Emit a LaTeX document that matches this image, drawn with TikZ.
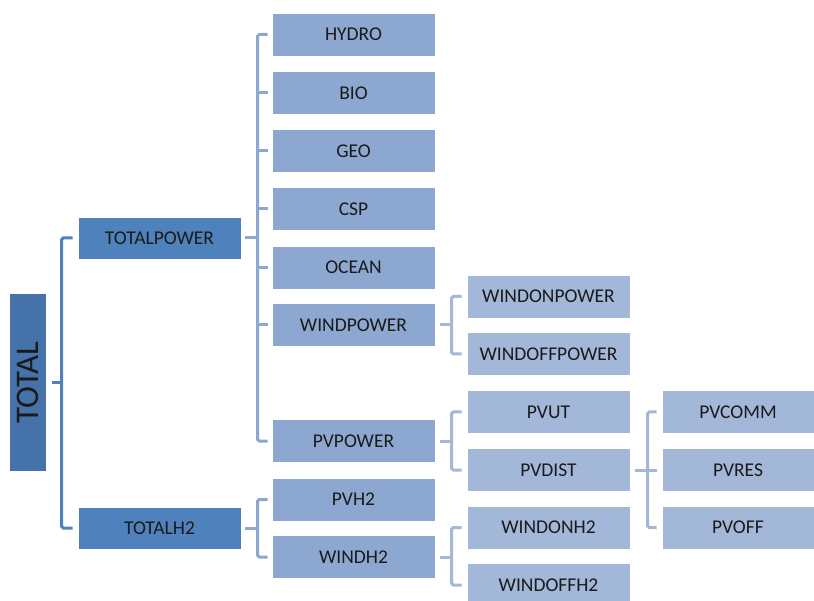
\documentclass[tikz,border=0pt]{standalone}
\usepackage{fontspec}
\setmainfont{Carlito}
\definecolor{ctot}{HTML}{4672AA}
\definecolor{cl1}{HTML}{4F81BD}
\definecolor{cl2}{HTML}{8DA8D0}
\definecolor{cl3}{HTML}{A3B7D9}
\definecolor{ctxt}{HTML}{1A1A1A}
\tikzset{
  box/.style={rectangle, draw=white, line width=0.6pt, minimum height=43pt, minimum width=163pt, inner sep=0pt, text=ctxt, font=\fontsize{19.5}{22}\selectfont},
  lvone/.style={box, fill=cl1, minimum height=42pt},
  lvtwo/.style={box, fill=cl2},
  lvthree/.style={box, fill=cl3},
  lvfour/.style={box, fill=cl3, minimum width=152pt},
  conone/.style={draw=cl1, line width=3pt, rounded corners=1.5pt},
  contwo/.style={draw=cl2, line width=3pt, rounded corners=1.5pt},
  conthree/.style={draw=cl3, line width=3pt, rounded corners=1.5pt},
}
\begin{document}
\begin{tikzpicture}[x=1pt,y=-1pt]
\useasboundingbox (0,0) rectangle (814,601);
% nodes
\node[box, fill=ctot, draw=none, minimum width=36pt, minimum height=177pt] (TOTAL) at (28,382.5) {\rotatebox{90}{\fontsize{33}{35}\selectfont TOTAL}};
\node[lvone] (TOTALPOWER) at (159.5,238) {TOTALPOWER};
\node[lvone] (TOTALH2) at (159.5,528) {TOTALH2};
\node[lvtwo] (HYDRO) at (353.5,34.5) {HYDRO};
\node[lvtwo] (BIO) at (353.5,93) {BIO};
\node[lvtwo] (GEO) at (353.5,151) {GEO};
\node[lvtwo] (CSP) at (353.5,209) {CSP};
\node[lvtwo] (OCEAN) at (353.5,267.5) {OCEAN};
\node[lvtwo] (WINDPOWER) at (353.5,325) {WINDPOWER};
\node[lvtwo] (PVPOWER) at (353.5,441) {PVPOWER};
\node[lvtwo] (PVH2) at (353.5,499.5) {PVH2};
\node[lvtwo] (WINDH2) at (353.5,557) {WINDH2};
\node[lvthree] (WINDONPOWER) at (548.5,296.5) {WINDONPOWER};
\node[lvthree] (WINDOFFPOWER) at (548.5,354) {WINDOFFPOWER};
\node[lvthree] (PVUT) at (548.5,412) {PVUT};
\node[lvthree] (PVDIST) at (548.5,470) {PVDIST};
\node[lvthree] (WINDONH2) at (548.5,527.5) {WINDONH2};
\node[lvthree] (WINDOFFH2) at (548.5,585) {WINDOFFH2};
\node[lvfour] (PVCOMM) at (738,412) {PVCOMM};
\node[lvfour] (PVRES) at (738,470) {PVRES};
\node[lvfour] (PVOFF) at (738,527.5) {PVOFF};
% level 1 connectors
\draw[conone] ([xshift=-5pt]TOTALPOWER.west) -- ([xshift=-16pt]TOTALPOWER.west) -- ([xshift=-16pt]TOTALH2.west) -- ([xshift=-5pt]TOTALH2.west);
\draw[conone] ([xshift=6pt]TOTAL.east) -- ([xshift=-16pt]TOTALPOWER.west |- TOTAL.east);
% level 2 connectors (TOTALPOWER)
\draw[contwo] ([xshift=-4pt]HYDRO.west) -- ([xshift=-14pt]HYDRO.west) -- ([xshift=-14pt]PVPOWER.west) -- ([xshift=-4pt]PVPOWER.west);
\foreach \n in {BIO,GEO,CSP,OCEAN,WINDPOWER}
  \draw[contwo] ([xshift=-14pt]\n.west) -- ([xshift=-4pt]\n.west);
\draw[contwo] ([xshift=4pt]TOTALPOWER.east) -- ([xshift=-14pt]HYDRO.west |- TOTALPOWER.east);
% level 2 connectors (TOTALH2)
\draw[contwo] ([xshift=-4pt]PVH2.west) -- ([xshift=-14pt]PVH2.west) -- ([xshift=-14pt]WINDH2.west) -- ([xshift=-4pt]WINDH2.west);
\draw[contwo] ([xshift=4pt]TOTALH2.east) -- ([xshift=-14pt]PVH2.west |- TOTALH2.east);
% level 3 connectors
\draw[conthree] ([xshift=-5pt]WINDONPOWER.west) -- ([xshift=-15pt]WINDONPOWER.west) -- ([xshift=-15pt]WINDOFFPOWER.west) -- ([xshift=-5pt]WINDOFFPOWER.west);
\draw[conthree] ([xshift=5pt]WINDPOWER.east) -- ([xshift=-15pt]WINDONPOWER.west |- WINDPOWER.east);
\draw[conthree] ([xshift=-5pt]PVUT.west) -- ([xshift=-15pt]PVUT.west) -- ([xshift=-15pt]PVDIST.west) -- ([xshift=-5pt]PVDIST.west);
\draw[conthree] ([xshift=5pt]PVPOWER.east) -- ([xshift=-15pt]PVUT.west |- PVPOWER.east);
\draw[conthree] ([xshift=-5pt]WINDONH2.west) -- ([xshift=-15pt]WINDONH2.west) -- ([xshift=-15pt]WINDOFFH2.west) -- ([xshift=-5pt]WINDOFFH2.west);
\draw[conthree] ([xshift=5pt]WINDH2.east) -- ([xshift=-15pt]WINDONH2.west |- WINDH2.east);
% level 4 connectors
\draw[conthree] ([xshift=-5pt]PVCOMM.west) -- ([xshift=-14pt]PVCOMM.west) -- ([xshift=-14pt]PVOFF.west) -- ([xshift=-5pt]PVOFF.west);
\draw[conthree] ([xshift=5pt]PVDIST.east) -- ([xshift=-5pt]PVRES.west);
\end{tikzpicture}
\end{document}
